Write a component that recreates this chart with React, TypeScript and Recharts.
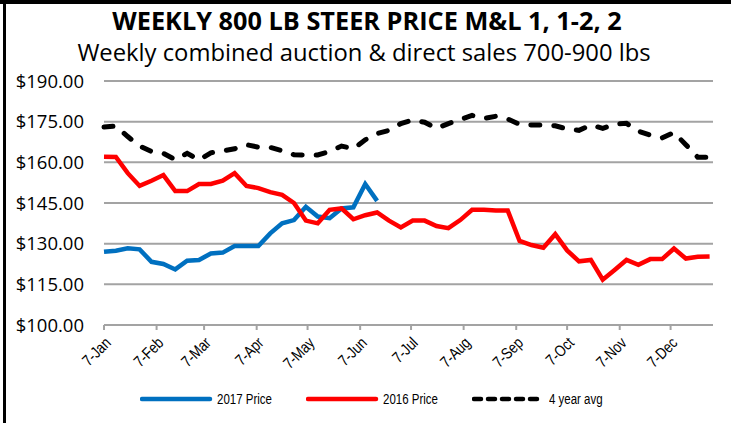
import React from "react";
import { LineChart, Line, XAxis, YAxis, CartesianGrid, Legend } from "recharts";

// days since 7-Jan for each weekly observation
const weekDays = [
  0, 7, 14, 21, 28, 35, 42, 49, 56, 63, 70, 77, 84, 91, 98, 105, 112, 119, 126,
  133, 140, 147, 154, 161, 168, 175, 182, 189, 196, 203, 210, 217, 224, 231,
  238, 245, 252, 259, 266, 273, 280, 287, 294, 301, 308, 315, 322, 329, 336,
  343, 350, 357,
];

const price2017 = [
  127.0, 127.4, 128.3, 127.9, 123.3, 122.5, 120.5, 123.7, 124.0, 126.4, 126.7,
  129.1, 129.1, 129.1, 133.8, 137.5, 138.7, 143.6, 140.0, 139.4, 143.0, 143.4,
  152.0, 145.8,
];

const price2016 = [
  162.1, 162.0, 156.0, 151.3, 153.2, 155.3, 149.4, 149.4, 152.0, 152.0, 153.2,
  156.0, 151.3, 150.5, 149.0, 148.0, 145.0, 138.5, 137.5, 142.5, 143.0, 139.0,
  140.5, 141.5, 138.5, 136.0, 138.5, 138.5, 136.5, 135.7, 138.7, 142.5, 142.5,
  142.2, 142.2, 131.0, 129.5, 128.5, 133.5, 127.5, 123.5, 124.0, 116.7, 120.3,
  124.0, 122.2, 124.3, 124.3, 128.2, 124.5, 125.2, 125.3,
];

const avg4yr = [
  173.0, 173.4, 169.5, 166.0, 164.0, 163.3, 161.0, 163.3, 160.9, 163.5, 164.2,
  165.0, 166.5, 165.6, 165.5, 164.3, 162.8, 162.7, 162.7, 164.0, 166.0, 165.0,
  168.3, 170.6, 171.8, 174.3, 175.6, 174.8, 172.5, 174.3, 175.8, 177.3, 176.2,
  177.0, 176.0, 174.0, 173.8, 173.8, 173.5, 172.3, 171.8, 173.8, 172.5, 174.1,
  174.4, 171.5, 170.0, 169.0, 171.0, 166.5, 161.9, 161.9,
];

const monthTickDays = [0, 31, 59, 90, 120, 151, 181, 212, 243, 273, 304, 334];
const monthTickLabels = [
  "7-Jan", "7-Feb", "7-Mar", "7-Apr", "7-May", "7-Jun",
  "7-Jul", "7-Aug", "7-Sep", "7-Oct", "7-Nov", "7-Dec",
];
const priceTicks = [100, 115, 130, 145, 160, 175, 190];

const data = weekDays.map((day, i) => ({
  day,
  p2017: i < price2017.length ? price2017[i] : null,
  p2016: price2016[i],
  avg: avg4yr[i],
}));

// no Arial Narrow here, so squeeze Liberation Sans horizontally
const narrow = '"Liberation Sans", Arial, sans-serif';
const squeeze = 0.82;
const gridGray = "#a3a3a3";

const MonthTick = (props: any) => {
  const { x, y, payload } = props;
  const idx = monthTickDays.indexOf(payload.value);
  const ax = x + 4;
  const ay = y + 8;
  return (
    <text
      x={0}
      y={0}
      transform={`translate(${ax} ${ay}) rotate(-45) scale(${squeeze} 1)`}
      textAnchor="end"
      dominantBaseline="central"
      fontFamily={narrow}
      fontSize={16}
      fill="#000"
    >
      {monthTickLabels[idx]}
    </text>
  );
};

const legendItems = [
  { label: "2017 Price", color: "#0070C0", dash: undefined },
  { label: "2016 Price", color: "#FF0000", dash: undefined },
  { label: "4 year avg", color: "#000000", dash: "7 7" },
];

const ChartLegend = () => (
  <div style={{ position: "relative", height: 32, width: 731 }}>
    {legendItems.map((item, i) => (
      <div key={item.label} style={{ position: "absolute", left: 140 + 166 * i, top: 0, height: 32 }}>
        <svg width={74} height={32} style={{ position: "absolute", left: 0, top: 0 }}>
          <line
            x1={2}
            x2={70}
            y1={16}
            y2={16}
            stroke={item.color}
            strokeWidth={4.5}
            strokeLinecap="round"
            strokeDasharray={item.dash}
          />
        </svg>
        <span
          style={{
            position: "absolute",
            left: 77,
            top: 0,
            lineHeight: "32px",
            whiteSpace: "nowrap",
            fontFamily: narrow,
            fontSize: 14,
            color: "#000",
            transform: `scaleX(${squeeze})`,
            transformOrigin: "0 50%",
          }}
        >
          {item.label}
        </span>
      </div>
    ))}
  </div>
);

export default function App() {
  return (
    <div
      style={{
        position: "absolute",
        left: 0,
        top: 0,
        width: 731,
        height: 423,
        background: "#fff",
        overflow: "hidden",
      }}
    >
      <LineChart
        width={731}
        height={423}
        data={data}
        margin={{ top: 81, right: 18, left: 0, bottom: 8 }}
      >
        <CartesianGrid vertical={false} stroke={gridGray} strokeWidth={2} />
        <XAxis
          dataKey="day"
          type="number"
          domain={[0, 359]}
          ticks={monthTickDays}
          interval={0}
          height={58}
          stroke={gridGray}
          axisLine={{ stroke: gridGray, strokeWidth: 2 }}
          tickLine={{ stroke: gridGray, strokeWidth: 2 }}
          tickSize={5}
          tick={<MonthTick />}
        />
        <YAxis
          domain={[100, 190]}
          ticks={priceTicks}
          width={104}
          axisLine={false}
          tickLine={false}
          tickMargin={14}
          tick={{ fill: "#000", fontSize: 18.5, fontFamily: '"Open Sans", sans-serif' }}
          tickFormatter={(v: number) => `$${v.toFixed(2)}`}
        />
        <Legend verticalAlign="bottom" content={<ChartLegend />} wrapperStyle={{ left: 0, width: 731 }} />
        <Line
          type="linear"
          dataKey="p2017"
          name="2017 Price"
          stroke="#0070C0"
          strokeWidth={4.5}
          dot={false}
          isAnimationActive={false}
        />
        <Line
          type="linear"
          dataKey="p2016"
          name="2016 Price"
          stroke="#FF0000"
          strokeWidth={4.5}
          dot={false}
          isAnimationActive={false}
        />
        <Line
          type="linear"
          dataKey="avg"
          name="4 year avg"
          stroke="#000000"
          strokeWidth={5}
          strokeDasharray="9 14"
          strokeLinecap="round"
          dot={false}
          isAnimationActive={false}
        />
      </LineChart>
      <svg
        width={731}
        height={75}
        style={{ position: "absolute", left: 0, top: 0, pointerEvents: "none" }}
      >
        <rect x={0} y={0} width={731} height={4} fill="#000" />
        <rect x={3} y={0} width={3} height={75} fill="#000" />
        <text
          x={367}
          y={30}
          textAnchor="middle"
          fontFamily='"Open Sans", sans-serif'
          fontWeight={700}
          fontSize={25.3}
          fill="#000"
        >
          WEEKLY 800 LB STEER PRICE M&amp;L 1, 1-2, 2
        </text>
        <text
          x={364}
          y={61}
          textAnchor="middle"
          fontFamily='"Open Sans", sans-serif'
          fontSize={23.8}
          fill="#000"
        >
          Weekly combined auction &amp; direct sales 700-900 lbs
        </text>
      </svg>
      <div style={{ position: "absolute", left: 3, top: 75, width: 3, height: 348, background: "#000" }} />
    </div>
  );
}
